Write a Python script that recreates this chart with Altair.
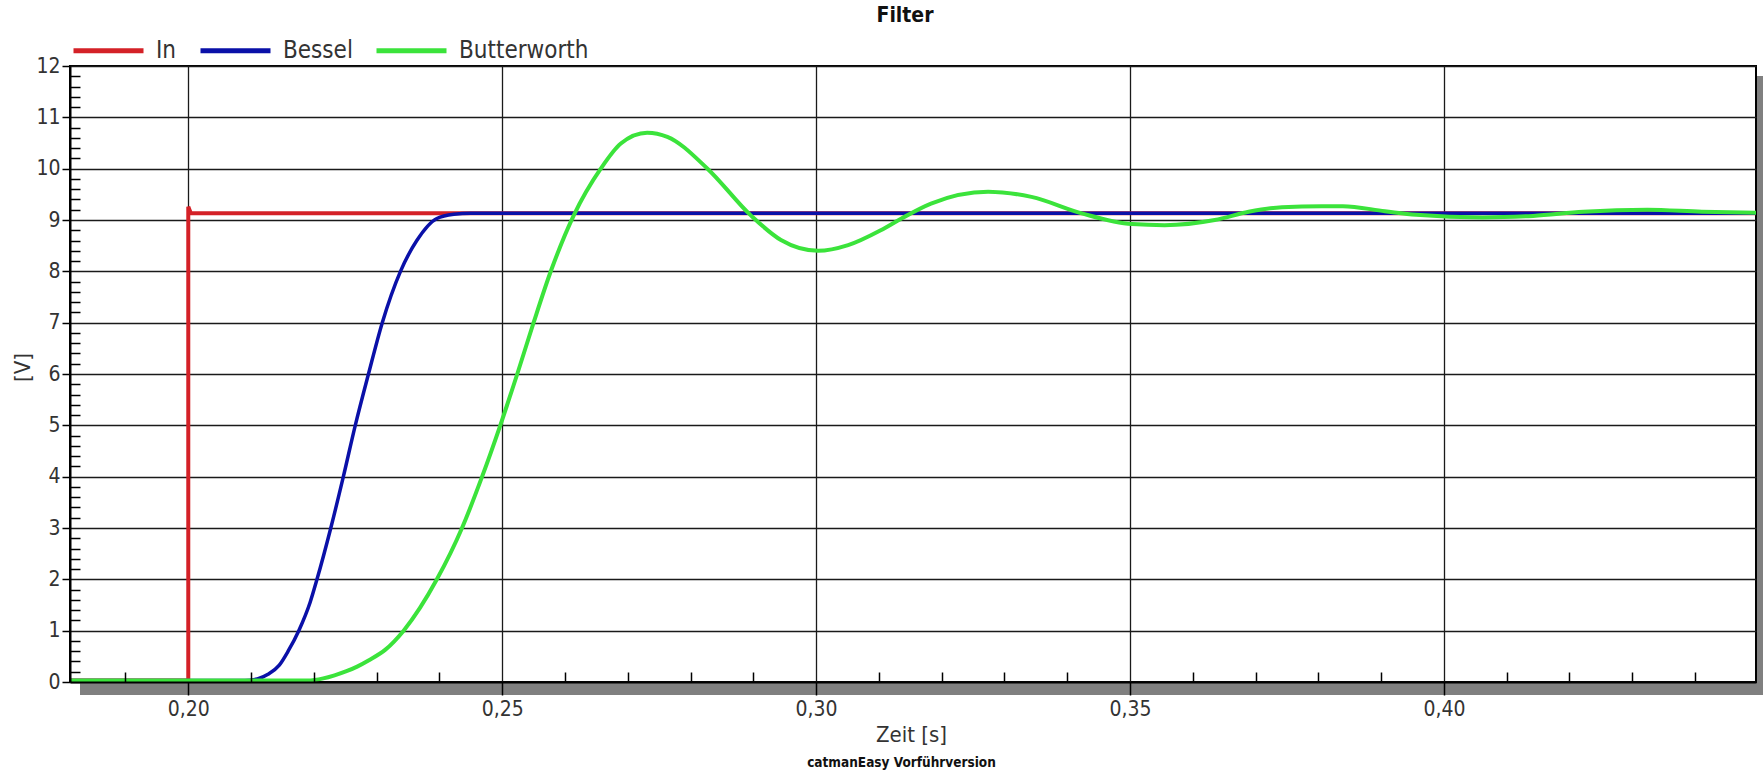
import altair as alt
import pandas as pd

W, H = 1686, 616
FONT = "DejaVu Sans Condensed, DejaVu Sans, sans-serif"

SERIES = ["In", "Bessel", "Butterworth"]
COLORS = ["#d42127", "#0a10a8", "#3be33b"]

X_DOMAIN = [0.18116, 0.44971]
X_MAJOR = [0.20, 0.25, 0.30, 0.35, 0.40]
X_MINOR = [0.19, 0.21, 0.22, 0.23, 0.24, 0.26, 0.27, 0.28, 0.29,
           0.31, 0.32, 0.33, 0.34, 0.36, 0.37, 0.38, 0.39,
           0.41, 0.42, 0.43, 0.44]
Y_MAJOR = [0, 1, 2, 3, 4, 5, 6, 7, 8, 9, 10, 11, 12]
Y_MINOR = [round(i * 0.2, 1) for i in range(61) if i % 5 != 0]

# --- series ---
in_t = [0.18116, 0.2000, 0.2000, 0.2004, 0.44971]
in_v = [0.03, 0.03, 9.26, 9.13, 9.13]

bessel_t = [0.18116, 0.2090, 0.2110, 0.2127, 0.2145, 0.2159, 0.2176, 0.2194,
            0.2205, 0.2227, 0.2247, 0.2266, 0.2287, 0.2309, 0.2338, 0.2364,
            0.2396, 0.2423, 0.2450, 0.44971]
bessel_v = [0.03, 0.03, 0.06, 0.15, 0.33, 0.60, 1.00, 1.55,
            2.00, 3.00, 4.00, 5.00, 6.00, 7.00, 8.00, 8.60,
            9.03, 9.11, 9.13, 9.13]

butter_t = [0.18116, 0.2190, 0.2215, 0.2233, 0.2252, 0.2269, 0.2287, 0.2314,
            0.2343, 0.2396, 0.2436, 0.2468, 0.2497, 0.2524, 0.2550, 0.2578,
            0.2614, 0.2657, 0.2689, 0.2731, 0.2763, 0.2827, 0.2896, 0.2944,
            0.3003, 0.3051, 0.3103, 0.3136, 0.3183, 0.3274, 0.3343, 0.3423,
            0.3503, 0.3555, 0.3635, 0.3689, 0.3742, 0.3806, 0.3839, 0.3906,
            0.3956, 0.4062, 0.4142, 0.4222, 0.4324, 0.4411, 0.44971]
butter_v = [0.03, 0.03, 0.07, 0.13, 0.21, 0.30, 0.42, 0.63,
            1.00, 2.00, 3.00, 4.00, 5.00, 6.00, 7.00, 8.02,
            9.09, 10.00, 10.49, 10.70, 10.62, 10.00, 9.09, 8.61,
            8.40, 8.51, 8.80, 9.03, 9.32, 9.55, 9.45, 9.13,
            8.92, 8.90, 9.00, 9.16, 9.25, 9.27, 9.27, 9.17,
            9.10, 9.05, 9.08, 9.16, 9.20, 9.16, 9.14]

rows = []
for name, ts, vs in [("In", in_t, in_v), ("Bessel", bessel_t, bessel_v),
                     ("Butterworth", butter_t, butter_v)]:
    for i, (t, v) in enumerate(zip(ts, vs)):
        rows.append({"s": name, "t": t, "v": v, "i": i})
df = pd.DataFrame(rows)

xs = alt.Scale(domain=X_DOMAIN, nice=False, zero=False)
ys = alt.Scale(domain=[0, 12], nice=False, zero=False)
cs = alt.Scale(domain=SERIES, range=COLORS)

legend = alt.Legend(title=None, orient="none", legendX=1, legendY=-53,
                    direction="horizontal", symbolType="stroke", symbolSize=4900,
                    symbolStrokeWidth=5, labelFont=FONT, labelFontSize=24,
                    labelColor="#333333", labelOffset=10, columnPadding=13,
                    padding=0, labelLimit=0)

label_expr = "replace(format(datum.value, '.2f'), '.', ',')"

# main axes: labels, major ticks, titles (drawn above shadow)
x_main = alt.Axis(values=X_MAJOR, orient="bottom", labelExpr=label_expr, grid=False,
                  domainColor="#000000", domainWidth=2, tickColor="#000000",
                  tickWidth=1.5, tickSize=13, labelFont=FONT, labelFontSize=21,
                  labelColor="#333333", labelPadding=3, labelFlush=False,
                  labelOverlap=False, title="Zeit [s]", titleFont=FONT,
                  titleFontSize=22, titleFontWeight="normal", titleColor="#333333",
                  titleBaseline="middle", titleY=52, titleX=W / 2 - 2, zindex=1)
y_main = alt.Axis(values=Y_MAJOR, orient="left", format="d", grid=False,
                  domainColor="#000000", domainWidth=2, tickColor="#000000",
                  tickWidth=1.5, tickSize=8, labelFont=FONT, labelFontSize=21,
                  labelColor="#333333", labelPadding=2, labelOverlap=False,
                  title="[V]", titleFont=FONT, titleFontSize=22,
                  titleFontWeight="normal", titleColor="#333333", titleAngle=270,
                  titleAlign="center", titleBaseline="middle", titleX=-48,
                  titleY=301, zindex=1)
# minor ticks pointing into the plot
x_minor = alt.Axis(values=X_MINOR, orient="top", offset=-H, labels=False,
                   domain=False, grid=False, tickColor="#000000", tickWidth=1.5,
                   tickSize=10, title=None, zindex=1)
y_minor = alt.Axis(values=Y_MINOR, orient="right", offset=-W, labels=False,
                   domain=False, grid=False, tickColor="#000000", tickWidth=1.5,
                   tickSize=10, title=None, zindex=1)
# grid only (behind curves)
x_grid = alt.Axis(values=X_MAJOR, orient="bottom", grid=True, gridColor="#1a1a1a",
                  gridWidth=1.3, ticks=False, labels=False, domain=False,
                  title=None, zindex=0)
y_grid = alt.Axis(values=Y_MAJOR, orient="left", grid=True, gridColor="#1a1a1a",
                  gridWidth=1.3, ticks=False, labels=False, domain=False,
                  title=None, zindex=0)

one = pd.DataFrame({"k": [0]})
shadow_right = alt.Chart(one).mark_rect(color="#808080").encode(
    x=alt.value(W + 1), x2=alt.value(W + 14), y=alt.value(10), y2=alt.value(H + 13))
shadow_bottom = alt.Chart(one).mark_rect(color="#808080").encode(
    x=alt.value(10), x2=alt.value(W + 14), y=alt.value(H + 1), y2=alt.value(H + 13))

grid_layer = alt.Chart(df).transform_filter("datum.s == 'Butterworth'").mark_line(
    opacity=0).encode(
    x=alt.X("t:Q", scale=xs, axis=x_grid),
    y=alt.Y("v:Q", scale=ys, axis=y_grid))


def series_layer(name, width, xaxis, yaxis, interp):
    return alt.Chart(df).transform_filter(f"datum.s == '{name}'").mark_line(
        strokeWidth=width, interpolate=interp).encode(
        x=alt.X("t:Q", scale=xs, axis=xaxis),
        y=alt.Y("v:Q", scale=ys, axis=yaxis),
        color=alt.Color("s:N", scale=cs, legend=legend),
        order=alt.Order("i:Q"))


red = series_layer("In", 4, x_main, y_main, "linear")
blue = series_layer("Bessel", 3.5, x_minor, y_minor, "monotone")
green = series_layer("Butterworth", 4, None, None, "monotone")

wm_df = pd.DataFrame({"txt": ["catmanEasy Vorführversion"]})
watermark = alt.Chart(wm_df).mark_text(font=FONT, fontSize=13.5, fontWeight="bold",
                                       color="#111111", align="center",
                                       baseline="middle").encode(
    x=alt.value(831.5), y=alt.value(697), text="txt:N")

chart = alt.layer(shadow_right, shadow_bottom, grid_layer, red, blue, green,
                  watermark).resolve_axis(x="independent", y="independent").properties(
    width=W, height=H,
    title=alt.TitleParams("Filter", font=FONT, fontSize=21, fontWeight="bold",
                          color="#111111", anchor="middle", dx=-8, dy=17),
    autosize=alt.AutoSizeParams(type="none"),
    padding={"left": 70, "top": 66, "right": 7, "bottom": 89},
    background="#ffffff",
).configure_view(stroke="#000000", strokeWidth=2)

chart.save("out.html", embed_options={"renderer": "svg", "actions": False})
